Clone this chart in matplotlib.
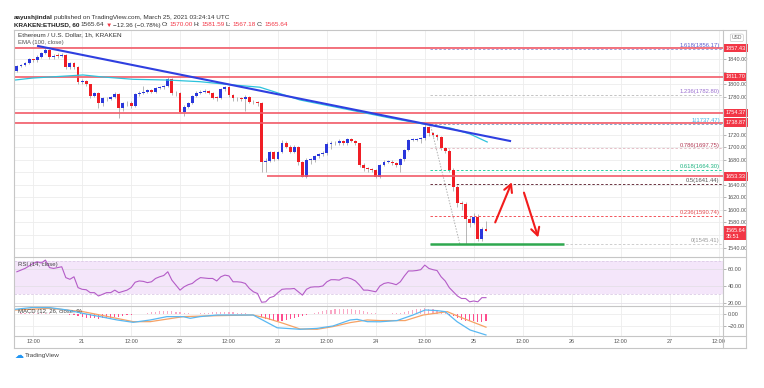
import numpy as np
import matplotlib.pyplot as plt
from matplotlib.transforms import blended_transform_factory
from matplotlib.lines import Line2D

plt.rcParams['font.family'] = ['Liberation Sans', 'DejaVu Sans']

W, H = 764, 388

# ---- ETHUSD 1h candles (Mar 20 08:00 -> Mar 25 03:00), hours from Mar 21 00:00
first_hour = -16
first_open = 1821.7
closes = [1829.1, 1830.7, 1833.4, 1839.7, 1838.6, 1844.0, 1850.3, 1854.6, 1842.9, 1845.0,
          1844.5, 1846.6, 1827.0, 1833.4, 1827.0, 1804.1, 1805.0, 1799.9, 1781.3, 1785.6,
          1769.7, 1777.6, 1777.0, 1780.3, 1784.5, 1762.7, 1769.7, 1770.0, 1765.4, 1784.5,
          1786.6, 1788.2, 1790.9, 1788.2, 1793.5, 1795.1, 1797.2, 1807.8, 1785.6, 1786.6,
          1756.4, 1764.3, 1769.7, 1781.3, 1786.6, 1788.2, 1789.3, 1785.6, 1778.7, 1778.5,
          1791.9, 1795.1, 1782.9, 1777.6, 1777.4, 1776.0, 1780.3, 1772.3, 1771.0, 1770.0,
          1676.8, 1677.9, 1691.7, 1680.5, 1691.7, 1707.1, 1700.7, 1692.7, 1700.7, 1675.8,
          1652.9, 1679.5, 1679.5, 1685.8, 1689.0, 1690.1, 1705.0, 1707.0, 1706.0, 1710.3,
          1706.0, 1712.4, 1710.3, 1706.0, 1671.5, 1666.2, 1665.0, 1663.5, 1651.9, 1671.5,
          1676.8, 1677.0, 1674.2, 1671.5, 1680.5, 1695.4, 1711.3, 1711.5, 1712.4, 1714.0,
          1731.5, 1722.0, 1719.0, 1716.0, 1698.0, 1694.4, 1663.6, 1637.0, 1611.6, 1609.0,
          1585.0, 1579.7, 1589.3, 1553.2, 1570.0, 1565.64]
highs = [1831, 1833, 1835, 1842, 1841, 1846, 1852, 1857.4, 1856, 1848,
         1849, 1849, 1848, 1836, 1835, 1829, 1808, 1807, 1801, 1788,
         1787, 1779, 1780, 1782, 1787, 1786, 1772, 1773, 1773, 1786,
         1789, 1797, 1793, 1792, 1796, 1797, 1799, 1811, 1810, 1790,
         1788, 1767, 1772, 1783, 1789, 1791, 1792, 1791, 1787, 1781,
         1794, 1797, 1798, 1785, 1780, 1780, 1783, 1782, 1775, 1773,
         1772, 1683, 1694, 1693, 1694, 1712, 1709, 1703, 1703, 1702,
         1678, 1683, 1682, 1688, 1691, 1693, 1708, 1710, 1709, 1713,
         1712, 1715, 1714, 1712, 1707, 1674, 1669, 1667, 1665, 1673,
         1679, 1679, 1679, 1676, 1682, 1697, 1713, 1714, 1715, 1716,
         1737.5, 1733, 1724, 1721, 1718, 1700, 1697, 1666, 1640, 1614,
         1612, 1590, 1595, 1594, 1573, 1581.59]
lows = [1819, 1827, 1829, 1832, 1836, 1836, 1842, 1848, 1840, 1841,
        1842, 1843, 1824, 1825, 1825, 1800, 1801, 1797, 1778, 1779,
        1761.7, 1766, 1774, 1775, 1778, 1745.8, 1758, 1766, 1763, 1764,
        1782, 1785, 1786, 1786, 1786, 1792, 1793, 1795, 1783, 1782,
        1754, 1750, 1762, 1768, 1779, 1785, 1786, 1784, 1776, 1774,
        1777, 1790, 1780, 1774, 1774, 1774, 1758, 1770, 1768, 1766,
        1660, 1661, 1676, 1678, 1679, 1690, 1698, 1690, 1690, 1672,
        1651.9, 1651, 1673, 1676, 1683, 1686, 1688, 1697, 1703, 1704,
        1703, 1704, 1708, 1704, 1668, 1662, 1661, 1660, 1650, 1650,
        1670, 1674, 1671, 1668, 1660, 1678, 1694, 1709, 1710, 1707,
        1712, 1718, 1716, 1712, 1695, 1690, 1660, 1630, 1605, 1600,
        1545.41, 1572, 1578, 1550, 1551, 1565.64]

rsi = [57, 59, 61, 64, 67, 69, 67.5, 71, 62, 61,
       62, 63, 50, 48, 51, 38, 36, 35.5, 32, 32,
       28, 30, 32, 32, 35, 32, 33.5, 35, 38, 44.5,
       46, 45.5, 44, 45, 49, 51, 52.5, 57, 47, 41,
       35, 39, 41.5, 43, 47, 50, 49.5, 49, 49, 46,
       51, 53, 52, 45, 45, 44.5, 43, 37, 33, 31,
       20.5, 21, 26, 27.5, 32, 36, 36.5, 36.5, 37, 33,
       29, 36, 38.5, 39, 39, 40, 45, 47.5, 47.5, 47,
       49.5, 50, 48.5, 46, 41, 35, 35, 34, 33, 40,
       43, 44, 43, 41.5, 45, 52, 58, 58, 58.5, 59.5,
       65, 61, 59.5, 58.5, 51, 46, 38, 33, 28, 25,
       25, 21, 22, 21, 26, 26]

hist = [0.8, 1.0, 1.2, 1.3, 1.4, 1.3, 1.2, 1.1, 1.0, 0.8,
        0.5, 0.3, -0.6, -1.5, -2.5, -3.8, -5, -6, -7, -7.5,
        -8, -7.5, -7, -6, -5, -4.5, -3.5, -2.5, -1.5, -0.8,
        -0.3, 0.5, 1.5, 2.5, 3.5, 4.5, 5.0, 5.5, 5.0, 4.0,
        2.5, 1.5, 1.0, 0.8, 0.8, 1.0, 1.5, 2.0, 2.5, 2.5,
        2.5, 3.0, 3.0, 2.5, 2.0, 1.5, 1.0, 0.5, 0.0, -0.5,
        -5.5, -8, -10, -11.5, -12, -11, -9.5, -8, -6, -4.5,
        -3, -1.5, -0.5, 1.5, 3, 4.5, 6, 7, 8, 8.5,
        8.5, 8, 7.5, 7, 6.5, 5, 3.5, 2, 1, 0.5,
        0.5, 0.8, 1.0, 1.2, 2, 3.5, 5, 6.5, 7.5, 8.5,
        9.5, 9, 8, 7, 5, 3, -1, -4, -7, -9.5,
        -11, -12, -12.5, -13, -13, -12.5]

ema_h = [-16.4, -12, -3.7, 0.25, 4.4, 12.5, 20.8, 28.9, 37, 43.6, 53.4, 65.7, 75.5, 83.6, 90.2, 95.1, 99.3]
ema_p = [1806.8, 1810, 1813.2, 1814.8, 1812, 1807.9, 1806.8, 1804.1, 1798.9, 1795.3,
         1775, 1759.1, 1746.3, 1736.8, 1730.4, 1720.8, 1708.1]

macd_h = [-16.4, -12, -7.8, -3.7, 0.2, 4.4, 8.6, 12.5, 16.7, 20.8, 24.8, 26.5, 28.9, 33.1, 37,
          41.9, 44.5, 47.8, 53.4, 57.6, 61.5, 65.7, 67.4, 69.9, 73, 77.2, 81.1, 84.1, 87, 89,
          91.9, 95.1, 99]
macd_v = [7.8, 11, 10.5, 6.7, 1, -4.4, -10, -13.9, -10, -4.4, -4.5, -7.2, -4.4, -1.7, -1.7,
          -1.7, -11, -23, -25.5, -24, -20, -10, -8.9, -12.8, -13, -11, -1.7, 6.7, 5.6, 3.9,
          -12.8, -26.7, -35]
sig_h = [-16.4, -7.8, 0.2, 4.4, 12.5, 16.7, 24.8, 33.1, 41.9, 45.3, 49.3, 53.4, 57.6, 61.5,
         65.7, 69.9, 73, 79.2, 83.6, 89.5, 93.4, 99]
sig_v = [6.7, 9.4, 3.9, -1.7, -12.8, -12.8, -4.4, -2.8, -1.7, -7.2, -15.6, -25, -25.5, -21,
         -14.4, -10, -11, -11, -1.7, 3.9, -7.2, -22]

trend_h = [-10.8, 104.9]
trend_p = [1860.9, 1709.7]

red_levels = [1857.43, 1811.70, 1754.37, 1738.87]
support_level = 1653.33
support_start = 45.3

fib_names = ['1.618', '1.236', '1', '0.786', '0.618', '0.5', '0.236', '0']
fib_prices = [1856.17, 1782.80, 1737.47, 1697.75, 1664.30, 1641.44, 1590.74, 1545.41]
fib_text_col = ['#5c5ccf', '#9b6fd0', '#3fb3e6', '#b23a55', '#1fb482', '#555555', '#e5484d', '#9a9a9a']
fib_line_col = ['#a0a0d8', '#c4c4c4', '#8aa8cc', '#e6c0c8', '#22d3a0', '#6b3341', '#f2545b', '#cfcfcf']
fib_start = 85.3
fib_diag_h = [85.3, 92.6]
fib_diag_p = [1737.47, 1545.41]

green_h = [85.3, 118.1]
green_p = 1545.0

up_arrow = [(101.0, 1576.0), (105.6, 1648.0)]
down_arrow = [(108.1, 1631.7), (112.0, 1552.0)]

tick_pos = [-12, 0, 12, 24, 36, 48, 60, 72, 84, 96, 108, 120, 132, 144, 156]
tick_lab = ['12:00', '21', '12:00', '22', '12:00', '23', '12:00', '24',
            '12:00', '25', '12:00', '26', '12:00', '27', '12:00']

price_ticks = list(range(1540, 1861, 20))
hidden_ticks = [1560, 1660, 1740, 1760, 1820, 1860]   # covered by the red price tags

XL = (-16.7, 157.1)
GRID = '#ededed'
LAB = '#555555'

fig = plt.figure(figsize=(W / 100, H / 100), dpi=100)


def box(x0, y0, x1, y1):
    return [x0 / W, 1 - y1 / H, (x1 - x0) / W, (y1 - y0) / H]


def fline(x0, y0, x1, y1, **kw):
    fig.add_artist(Line2D([x0 / W, x1 / W], [1 - y0 / H, 1 - y1 / H],
                          transform=fig.transFigure, **kw))


ax = fig.add_axes(box(14, 30, 723, 257))
ax_rsi = fig.add_axes(box(14, 257, 723, 306))
ax_macd = fig.add_axes(box(14, 306, 723, 336))

for a in (ax, ax_rsi, ax_macd):
    a.set_xlim(*XL)
    for s in a.spines.values():
        s.set_visible(False)
    a.set_xticks(tick_pos)
    for t in tick_pos:
        a.axvline(t, color=GRID, lw=0.6, zorder=0)
    a.yaxis.tick_right()
    a.tick_params(axis='y', length=2, width=0.5, color='#999999', pad=1.5,
                  labelsize=4, labelcolor=LAB)
    a.tick_params(axis='x', length=0, labelbottom=False)

# ---- price panel
n = len(closes)
hours = first_hour + np.arange(n)
opens = [first_open] + closes[:-1]
ax.set_ylim(1525.0, 1886.4)
ax.set_yticks(price_ticks, ['' if p in hidden_ticks else f'{p:.2f}' for p in price_ticks])
for p in price_ticks:
    ax.axhline(p, color=GRID, lw=0.6, zorder=0)

body_col = ['#2a37dc' if c >= o else '#f01e25' for o, c in zip(opens, closes)]
body_h = [c - o if abs(c - o) > 0.9 else 0.9 for o, c in zip(opens, closes)]
ax.vlines(hours, lows, highs, color='#9a9a9a', lw=0.5, zorder=2)
ax.bar(hours, body_h, bottom=opens, width=0.7, color=body_col, zorder=3)

ax.plot(ema_h, ema_p, color='#2cc3dc', lw=0.9, zorder=4)
ax.plot(trend_h, trend_p, color='#2f3fe0', lw=1.5, zorder=4)

for p in red_levels:
    ax.axhline(p, color='#f25b68', lw=1.2, zorder=3)
ax.hlines(support_level, support_start, XL[1], color='#f25b68', lw=1.2, zorder=3)

for name, p, tc, lc in zip(fib_names, fib_prices, fib_text_col, fib_line_col):
    ax.hlines(p, fib_start, XL[1], color=lc, lw=0.7, linestyles=(0, (2.5, 2)), zorder=2)
    ax.text(156.3, p + 1.2, f'{name}({p:.2f})', ha='right', va='bottom',
            fontsize=4.2, color=tc, zorder=5)
ax.plot(fib_diag_h, fib_diag_p, color='#b0b0b0', lw=0.7, ls=(0, (1.5, 1.5)), zorder=2)

ax.hlines(green_p, green_h[0], green_h[1], color='#2fa84f', lw=1.8, zorder=4)
for (a0, a1) in (up_arrow, down_arrow):
    ax.annotate('', xy=a1, xytext=a0,
                arrowprops=dict(arrowstyle='->,head_length=0.55,head_width=0.3',
                                color='#f21c1c', lw=1.5), zorder=6)

ax.text(0.0056, 0.978, 'Ethereum / U.S. Dollar, 1h, KRAKEN', transform=ax.transAxes,
        fontsize=4.6, color='#333333', va='center')
ax.text(0.0056, 0.943, 'EMA (100, close)', transform=ax.transAxes,
        fontsize=4.3, color='#555555', va='center')

bt = blended_transform_factory(ax.transAxes, ax.transData)
for p in red_levels + [support_level]:
    ax.text(1.004, p, f'{p:.2f}', transform=bt, fontsize=4, color='white', va='center',
            ha='left', zorder=10, clip_on=False,
            bbox=dict(boxstyle='square,pad=0.3', fc='#f23645', ec='none'))
ax.text(1.004, closes[-1] - 3, f'{closes[-1]:.2f}\n35:51', transform=bt, fontsize=4,
        color='white', va='center', ha='left', zorder=10, clip_on=False, linespacing=1.1,
        bbox=dict(boxstyle='square,pad=0.3', fc='#f23645', ec='none'))
ax.text(1.012, 1874, 'USD', transform=bt, fontsize=3.6, color='#666666', va='center',
        ha='left', clip_on=False,
        bbox=dict(boxstyle='round,pad=0.25', fc='white', ec='#bbbbbb', lw=0.4))

# ---- RSI panel
ax_rsi.set_ylim(16, 74.7)
ax_rsi.axhspan(30, 70, color='#f4e6fa', zorder=0, lw=0)
for lvl in (30, 70):
    ax_rsi.axhline(lvl, color='#dccbe6', lw=0.6, ls=(0, (3, 2)), zorder=1)
for lvl in (20, 40, 60):
    ax_rsi.axhline(lvl, color='#e4e0e8', lw=0.6, zorder=1)
ax_rsi.set_yticks([20, 40, 60], ['20.00', '40.00', '60.00'])
ax_rsi.plot(hours, rsi, color='#b45cc7', lw=0.8, zorder=3)
ax_rsi.text(0.0056, 0.84, 'RSI (14, close)', transform=ax_rsi.transAxes,
            fontsize=4.3, color='#444444', va='center')

# ---- MACD panel
ax_macd.set_ylim(-36.7, 13.3)
for lvl in (0, -20):
    ax_macd.axhline(lvl, color=GRID, lw=0.6, zorder=0)
ax_macd.set_yticks([0, -20], ['0.00', '\u221220.00'])
hist_col = ['#f9a8c6' if v >= 0 else '#ff4d8d' for v in hist]
ax_macd.bar(hours, hist, width=0.28, color=hist_col, zorder=2)
ax_macd.plot(sig_h, sig_v, color='#f6a265', lw=0.9, zorder=3)
ax_macd.plot(macd_h, macd_v, color='#59b8f2', lw=0.9, zorder=4)
ax_macd.text(0.0056, 0.83, 'MACD (12, 26, close, 9)', transform=ax_macd.transAxes,
             fontsize=4.3, color='#444444', va='center')
ax_macd.tick_params(axis='x', labelbottom=True, pad=2.5, labelsize=4, labelcolor=LAB)
ax_macd.set_xticklabels(tick_lab)

# ---- frame
fc = '#c6c6c6'
fline(14, 30, 746, 30, color=fc, lw=0.8)
fline(14, 348, 746, 348, color=fc, lw=0.8)
fline(14, 30, 14, 348, color=fc, lw=0.8)
fline(746, 30, 746, 348, color=fc, lw=0.8)
fline(723, 30, 723, 348, color=fc, lw=0.8)
for yy in (257, 306, 336):
    fline(14, yy, 746, yy, color=fc, lw=0.8)

# ---- header text
renderer = fig.canvas.get_renderer()


def text_runs(x, y, parts):
    for s, col, wt in parts:
        t = fig.text(x / W, 1 - y / H, s, fontsize=4.6, color=col, weight=wt, va='center')
        x += t.get_window_extent(renderer).width + 1.2


text_runs(14, 17, [('aayushjindal', '#222222', 'bold'),
                   ('published on TradingView.com, March 25, 2021 03:24:14 UTC', '#333333', 'normal')])
text_runs(14, 25, [('KRAKEN:ETHUSD, 60', '#222222', 'bold'),
                   ('1565.64', '#333333', 'normal'),
                   ('\u25bc', '#f23645', 'normal'),
                   ('\u221212.36 (\u22120.78%)', '#333333', 'normal'),
                   ('O:', '#333333', 'normal'), ('1570.00', '#f23645', 'normal'),
                   ('H:', '#333333', 'normal'), ('1581.59', '#f23645', 'normal'),
                   ('L:', '#333333', 'normal'), ('1567.18', '#f23645', 'normal'),
                   ('C:', '#333333', 'normal'), ('1565.64', '#f23645', 'normal')])

fig.text(15 / W, 1 - 355 / H, '\u2601', fontsize=6.5, color='#2196f3', va='center',
         family='DejaVu Sans')
fig.text(25 / W, 1 - 355 / H, 'TradingView', fontsize=4.6, color='#444444', va='center')

fig.savefig('out.png', dpi=100)
